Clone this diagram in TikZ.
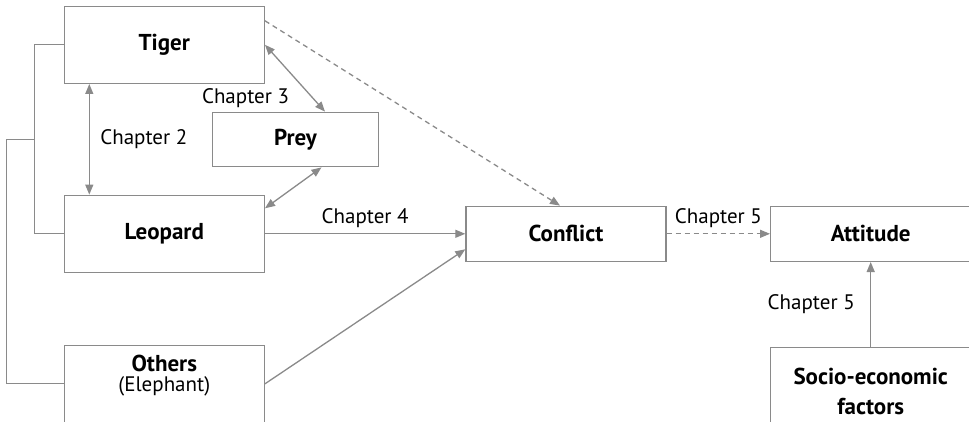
\documentclass[tikz,border=0pt]{standalone}
\usepackage{fontspec}
\setmainfont{PT Sans}
\usetikzlibrary{arrows.meta,positioning,calc}
\definecolor{linegray}{RGB}{138,138,138}

\begin{document}
\begin{tikzpicture}[x=1pt,y=-1pt,>={Triangle[length=10pt,width=8pt]},
    box/.style={draw=linegray, line width=1.4pt, minimum width=200pt, minimum height=77pt,
      inner sep=0pt, align=center, font=\fontsize{23}{28}\selectfont\bfseries},
    link/.style={draw=linegray, line width=1.3pt},
    dash line/.style={dash pattern=on 5pt off 4pt},
    chap/.style={font=\fontsize{21}{25}\selectfont}]
  \useasboundingbox (0,0) rectangle (969,422);
  \clip (0,0) rectangle (969,422);

  % animal boxes
  \node[box] (tiger) at (164.3,44.8) {Tiger};
  \node[box, minimum width=165.6pt, minimum height=54.4pt] (prey) at (295.5,139.5) {Prey};
  \node[box] (leopard) at (164.3,233.8) {Leopard};
  \node[box] (others) at (164.3,383.8) {};
  \node[box, draw=none] (otherstext) at ([yshift=8]others.center)
    {Others\\[-8pt]{\mdseries\fontsize{21}{25}\selectfont(Elephant)}};

  % outcome boxes
  \node[box, minimum height=55pt] (conflict) at (566,233.8) {Conflict};
  \node[box, minimum height=55pt] (attitude) at (870.7,233.8) {Attitude};
  \node[box] (socio) at (870.7,386.2) {};
  \node[box, draw=none] (sociotext) at ([yshift=-5]socio.center) {Socio-economic\\[2pt]factors};

  % grouping lines on the left
  \draw[link] (tiger.west) -- ++(-29.3,0) |- (leopard.west);
  \draw[link] ($(tiger.west)!0.5!(leopard.west)+(-29.3,0)$) -- ++(-27.7,0) |- (others.west);

  % chapters
  \draw[link, <->] ([xshift=-75]tiger.south) -- node[chap, right=7pt] {Chapter 2} ([xshift=-75]leopard.north);
  \draw[link, <->] (tiger.east) -- node[chap, pos=0.8, left=20pt] {Chapter 3} ([xshift=29.5]prey.north);
  \draw[link, <->] ([xshift=26]prey.south) -- ([yshift=25.5]leopard.east);
  \draw[link, ->] (leopard.east) -- node[chap, above=2pt] {Chapter 4} (conflict.west);
  \draw[link, ->] (others.east) -- ([yshift=-15.5]conflict.west);
  \draw[link, dash line, ->] ([yshift=24]tiger.east) -- ([xshift=-6]conflict.north);
  \draw[link, dash line, ->] (conflict.east) -- node[chap, above=2pt] {Chapter 5} (attitude.west);
  \draw[link, ->] (socio.north) -- node[chap, left=12pt] {Chapter 5} (attitude.south);
\end{tikzpicture}
\end{document}
